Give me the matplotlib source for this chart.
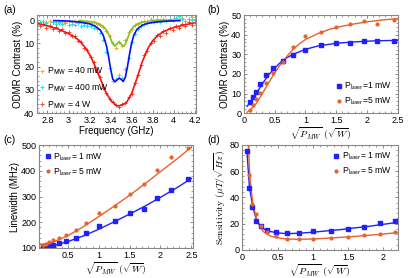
import matplotlib
matplotlib.use('Agg')
import matplotlib.pyplot as plt
from matplotlib.ticker import FuncFormatter, MultipleLocator, AutoMinorLocator

plt.rcParams['font.family'] = ['Liberation Sans', 'DejaVu Sans']
plt.rcParams['mathtext.fontset'] = 'cm'
plt.rcParams['font.size'] = 6.5

# ---- (a) ODMR spectra ----
freq = [2.70, 2.73, 2.76, 2.79, 2.82, 2.85, 2.88, 2.91, 2.94, 2.97,
        3.00, 3.03, 3.06, 3.09, 3.12, 3.15, 3.18, 3.21, 3.24, 3.27,
        3.30, 3.33, 3.36, 3.39, 3.42, 3.45, 3.48, 3.51, 3.54, 3.57,
        3.60, 3.63, 3.66, 3.69, 3.72, 3.75, 3.78, 3.81, 3.84, 3.87,
        3.90, 3.93, 3.96, 3.99, 4.02, 4.05, 4.08, 4.11, 4.14, 4.17, 4.20]
c_40mw = [0.8, 1.2, 0.5, 1.0, 0.3, 0.9, 0.6, 1.1, 0.4, 0.8,
          0.2, 0.9, 0.5, 0.7, 0.3, 1.0, 0.6, 1.2, 0.9, 1.5,
          2.0, 2.8, 4.5, 6.8, 10.0, 11.8, 9.5, 11.0, 8.5, 5.2,
          3.8, 2.2, 1.6, 0.8, 0.5, 0.2, -0.3, 0.3, -0.5, 0.0,
          -0.7, -0.2, -0.6, 0.1, -1.0, -2.2, -0.8, 0.2, -0.5, -1.2, -0.6]
c_400mw = [1.5, 0.8, 1.8, 1.2, 2.0, 1.0, 1.6, 0.9, 1.7, 1.3,
           2.1, 1.5, 2.0, 1.4, 2.4, 1.9, 2.6, 2.5, 3.3, 4.0,
           5.5, 8.5, 13.5, 20.5, 26.0, 25.5, 23.5, 24.8, 21.0, 16.5,
           9.5, 6.0, 4.0, 2.6, 1.8, 1.2, 0.5, 0.9, 0.2, 0.6,
           -0.2, 0.4, -0.5, 0.1, -0.8, -1.8, -0.3, 0.2, -0.6, 0.0, -0.4]
c_4w = [1.0, 2.5, 1.8, 3.2, 2.4, 3.8, 3.0, 4.5, 4.0, 5.6,
        5.2, 6.9, 7.0, 8.8, 9.2, 11.8, 12.8, 16.0, 18.2, 22.5,
        24.5, 29.0, 31.5, 34.0, 35.2, 36.5, 37.2, 36.0, 35.8, 33.0,
        31.8, 27.0, 23.8, 19.5, 15.0, 13.2, 9.8, 9.0, 6.2, 6.9,
        4.5, 5.5, 3.2, 4.4, 2.5, 3.3, 1.6, 2.6, 1.0, 1.9, 0.8]

fit40_x = [3.10, 3.20, 3.25, 3.30, 3.34, 3.37, 3.40, 3.42, 3.44, 3.46, 3.48,
           3.50, 3.52, 3.54, 3.56, 3.58, 3.61, 3.65, 3.70, 3.80, 3.90, 4.05]
fit40_y = [0.2, 0.6, 1.0, 1.8, 3.2, 5.0, 8.0, 10.2, 11.2, 10.3, 9.3,
           10.3, 11.2, 10.3, 8.0, 5.5, 3.2, 1.7, 0.9, 0.3, 0.1, 0.0]
fit400_x = [2.86, 3.00, 3.10, 3.20, 3.25, 3.30, 3.33, 3.36, 3.38, 3.40, 3.42,
            3.44, 3.46, 3.48, 3.50, 3.52, 3.54, 3.56, 3.58, 3.60, 3.62, 3.65,
            3.70, 3.75, 3.85, 3.95, 4.06]
fit400_y = [0.2, 0.4, 0.8, 1.6, 2.5, 4.2, 6.5, 11.0, 15.5, 21.0, 25.3,
            26.5, 25.8, 24.9, 25.5, 26.4, 24.5, 20.0, 14.5, 9.8, 6.5, 4.0,
            2.2, 1.4, 0.7, 0.4, 0.2]
fit4w_x = [2.71, 2.80, 2.90, 3.00, 3.05, 3.10, 3.15, 3.20, 3.25, 3.30, 3.35,
           3.40, 3.45, 3.47, 3.50, 3.55, 3.60, 3.65, 3.70, 3.75, 3.80, 3.85,
           3.90, 3.95, 4.00, 4.10, 4.19]
fit4w_y = [1.5, 2.5, 3.8, 5.8, 7.0, 8.7, 11.3, 14.8, 19.5, 25.0, 30.5,
           34.5, 36.6, 36.9, 36.6, 35.5, 31.5, 25.0, 18.0, 12.5, 8.8, 6.5,
           5.0, 4.0, 3.2, 2.0, 1.3]

# ---- (b), (c), (d) vs sqrt(P_MW) ----
sqrt_p = [0.07, 0.1, 0.14, 0.2, 0.26, 0.35, 0.47, 0.63, 0.8, 1.0,
          1.26, 1.5, 1.73, 1.95, 2.17, 2.45]
contrast_1mw = [4.0, 5.6, 8.2, 11.0, 15.0, 19.6, 23.0, 26.4, 29.8, 32.3,
                34.5, 35.7, 35.9, 36.7, 36.7, 36.7]
contrast_5mw = [1.0, 1.7, 3.9, 7.0, 10.2, 15.5, 20.4, 26.0, 33.7, 39.3,
                41.3, 43.9, 45.3, 46.8, 45.3, 47.6]
width_1mw = [100, 102, 104, 108, 113, 119, 127, 140, 157, 185,
             203, 237, 252, 295, 327, 367]
width_5mw = [108, 110, 116, 125, 130, 140, 152, 168, 197, 235,
             265, 308, 347, 405, 452, 488]
sens_1mw = [75, 47, 33, 22, 18.5, 15.3, 14, 13, 13, 14.3,
            14.5, 16.3, 17.6, 20.2, 21.7]
sens_5mw = [57, 35, 27, 18, 13.5, 10.3, 8.4, 8, 8.2,
            9, 10, 11.2, 12.3, 13.5]

fitb1_x = [0.05, 0.1, 0.2, 0.3, 0.4, 0.5, 0.6, 0.7, 0.8, 1.0, 1.2, 1.5, 1.8, 2.1, 2.5]
fitb1_y = [3.5, 5.5, 10, 15, 19.5, 23, 26, 28.3, 30, 32.5, 34.2, 35.6, 36.3, 36.8, 37.1]
fitb5_x = [0.05, 0.1, 0.2, 0.3, 0.4, 0.5, 0.6, 0.7, 0.8, 0.9, 1.0, 1.2, 1.4, 1.6, 1.8, 2.0, 2.2, 2.5]
fitb5_y = [0.5, 1.5, 5, 10, 15.5, 20.5, 25, 29, 32.5, 35.3, 37.5, 40.5, 42.8, 44.3, 45.5, 46.5, 47.3, 48.2]

fitc_x = [0.05, 0.25, 0.5, 0.75, 1.0, 1.25, 1.5, 1.75, 2.0, 2.25, 2.5]
fitc1_y = [99, 108, 125, 147, 173, 202, 232, 263, 297, 332, 370]
fitc5_y = [113, 122, 148, 183, 222, 263, 305, 350, 397, 443, 492]

fitd1_x = [0.065, 0.1, 0.15, 0.2, 0.25, 0.3, 0.4, 0.5, 0.6, 0.7, 0.8, 1.0, 1.2, 1.4, 1.6, 1.8, 2.0, 2.2]
fitd1_y = [75, 48, 32, 23, 18.5, 16, 14, 13, 12.5, 12.5, 12.7, 13.5, 14.5, 15.5, 16.8, 18, 19.5, 21]
fitd5_x = [0.085, 0.1, 0.12, 0.15, 0.2, 0.25, 0.3, 0.4, 0.5, 0.6, 0.7, 0.8, 1.0, 1.2, 1.4, 1.6, 1.8, 2.0, 2.2]
fitd5_y = [80, 62, 48, 35, 24, 17.5, 13.8, 10.5, 9.2, 8.5, 8.2, 8.1, 8.3, 8.9, 9.6, 10.3, 11.2, 12.1, 13.2]

BLUE = '#1f1fff'
ORANGE = '#e8622a'
fmt = FuncFormatter(lambda v, p: '%g' % v)
sqrt_label = r'$\sqrt{P_{MW}}\ (\sqrt{W})$'


def style(ax, xmajor, ymajor):
    ax.xaxis.set_major_locator(MultipleLocator(xmajor))
    ax.yaxis.set_major_locator(MultipleLocator(ymajor))
    ax.xaxis.set_minor_locator(AutoMinorLocator(5))
    ax.yaxis.set_minor_locator(AutoMinorLocator(5))
    ax.xaxis.set_major_formatter(fmt)
    ax.yaxis.set_major_formatter(fmt)
    ax.tick_params(which='both', direction='in', top=True, right=True,
                   color='#777777', labelsize=6.5, pad=2)
    ax.tick_params(which='major', length=2.5, width=0.6)
    ax.tick_params(which='minor', length=1.3, width=0.5)
    for s in ax.spines.values():
        s.set_color('#888888')
        s.set_linewidth(0.8)


fig = plt.figure(figsize=(4.15, 2.78), dpi=100)

# (a)
ax = fig.add_axes([0.089, 0.593, 0.383, 0.353])
ax.plot(freq, c_40mw, '+', color='#f0a830', ms=2.2, mew=0.7, label='P$_{\\mathsf{MW}}$ = 40 mW')
ax.plot(freq, c_400mw, '+', color='#19e3f0', ms=2.2, mew=0.7, label='P$_{\\mathsf{MW}}$ = 400 mW')
ax.plot(freq, c_4w, '+', color='#e8502a', ms=2.2, mew=0.7, label='P$_{\\mathsf{MW}}$ = 4 W')
ax.plot(fit40_x, fit40_y, color='#7ec320', lw=1.2)
ax.plot(fit400_x, fit400_y, color='#0a0aff', lw=1.2)
ax.plot(fit4w_x, fit4w_y, color='#ff1010', lw=1.2)
ax.set_xlim(2.7, 4.21)
ax.set_ylim(40, -2.2)
style(ax, 0.2, 10)
ax.set_xlabel('Frequency (GHz)', fontsize=7, labelpad=1)
ax.set_ylabel('ODMR Contrast (%)', fontsize=7, labelpad=1)
ax.legend(loc='lower left', fontsize=6.2, frameon=False, handlelength=0.6,
          handletextpad=0.3, borderaxespad=0.1, labelspacing=0.6,
          borderpad=0.2)

# (b)
ax = fig.add_axes([0.588, 0.593, 0.370, 0.353])
ax.plot(fitb1_x, fitb1_y, color=BLUE, lw=1.0)
ax.plot(fitb5_x, fitb5_y, color=ORANGE, lw=1.0)
ax.plot(sqrt_p[1:], contrast_1mw[1:], 's', color=BLUE, ms=2.3, label='P$_{\\mathsf{laser}}$=1 mW')
ax.plot(sqrt_p[1:], contrast_5mw[1:], 'o', color=ORANGE, ms=2.0, label='P$_{\\mathsf{laser}}$=5 mW')
ax.set_xlim(0, 2.5)
ax.set_ylim(0, 50)
style(ax, 0.5, 10)
ax.set_xlabel(sqrt_label, fontsize=7, labelpad=0)
ax.set_ylabel('ODMR Contrast (%)', fontsize=7, labelpad=1)
ax.legend(loc='lower right', fontsize=6.2, frameon=False, handlelength=0.6,
          handletextpad=0.3, borderaxespad=0.3, labelspacing=0.4)

# (c)
ax = fig.add_axes([0.094, 0.108, 0.370, 0.370])
ax.plot(fitc_x, fitc1_y, color=BLUE, lw=1.0)
ax.plot(fitc_x, fitc5_y, color=ORANGE, lw=1.0)
ax.plot(sqrt_p[1:], width_1mw[1:], 's', color=BLUE, ms=2.3, label='P$_{\\mathsf{laser}}$= 1 mW')
ax.plot(sqrt_p[1:], width_5mw[1:], 'o', color=ORANGE, ms=2.0, label='P$_{\\mathsf{laser}}$= 5 mW')
ax.set_xlim(0.03, 2.52)
ax.set_ylim(100, 500)
style(ax, 0.5, 100)
ax.set_xlabel(sqrt_label, fontsize=7, labelpad=0)
ax.set_ylabel('Linewidth (MHz)', fontsize=7, labelpad=1)
ax.legend(loc='upper left', fontsize=6.2, frameon=False, handlelength=0.6,
          handletextpad=0.3, borderaxespad=0.3, labelspacing=0.4)

# (d)
ax = fig.add_axes([0.584, 0.101, 0.374, 0.378])
ax.plot(fitd1_x, fitd1_y, color=BLUE, lw=1.0)
ax.plot(fitd5_x, fitd5_y, color=ORANGE, lw=1.0)
ax.plot(sqrt_p[:15], sens_1mw, 's', color=BLUE, ms=2.3, label='P$_{\\mathsf{laser}}$= 1 mW')
ax.plot(sqrt_p[1:15], sens_5mw, 'o', color=ORANGE, ms=2.0, label='P$_{\\mathsf{laser}}$= 5 mW')
ax.set_xlim(0, 2.2)
ax.set_ylim(0, 80)
style(ax, 0.5, 20)
ax.set_xlabel(sqrt_label, fontsize=7, labelpad=0)
ax.set_ylabel(r'$\mathrm{Sensitivity}\ (\mu T/\sqrt{Hz})$', fontsize=7, labelpad=1)
ax.legend(loc='upper right', fontsize=6.2, frameon=False, handlelength=0.6,
          handletextpad=0.3, borderaxespad=0.3, labelspacing=0.4)

fig.text(0.007, 0.955, '(a)', fontsize=7.5)
fig.text(0.500, 0.955, '(b)', fontsize=7.5)
fig.text(0.007, 0.485, '(c)', fontsize=7.5)
fig.text(0.500, 0.485, '(d)', fontsize=7.5)

fig.savefig('out.png', dpi=100)
